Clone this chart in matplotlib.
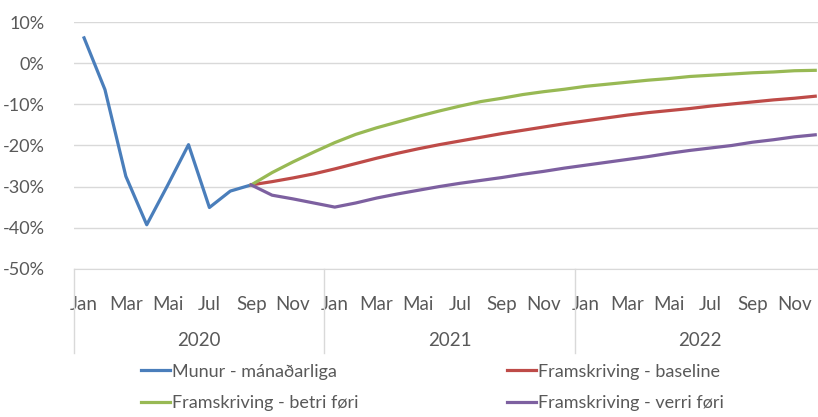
import matplotlib
matplotlib.use("Agg")
import matplotlib.pyplot as plt
from matplotlib.lines import Line2D
from matplotlib.ticker import FuncFormatter
from matplotlib import transforms

months = ["Jan", "Feb", "Mar", "Apr", "Mai", "Jun", "Jul", "Aug", "Sep", "Okt", "Nov", "Des"]
years = ["2020", "2021", "2022"]

# Munur - mánaðarliga (Jan-Sep 2020)
munur = [6.2, -6.4, -27.5, -39.3, -29.7, -19.8, -35.1, -31.1, -29.6]

# framskrivingar frá Sep 2020 til Des 2022
baseline = [-29.6, -28.8, -27.9, -26.9, -25.7, -24.4, -23.1, -21.9, -20.8, -19.8,
            -18.9, -18.0, -17.1, -16.3, -15.5, -14.7, -14.0, -13.3, -12.6, -12.0,
            -11.5, -11.0, -10.4, -9.9, -9.4, -8.9, -8.5, -8.0]
betri = [-29.6, -26.6, -24.0, -21.6, -19.3, -17.3, -15.7, -14.3, -12.9, -11.6,
         -10.4, -9.3, -8.5, -7.6, -6.9, -6.3, -5.6, -5.1, -4.6, -4.1,
         -3.7, -3.2, -2.9, -2.6, -2.3, -2.1, -1.8, -1.7]
verri = [-29.6, -32.1, -33.0, -34.0, -35.0, -34.0, -32.8, -31.8, -30.9, -30.0,
         -29.2, -28.5, -27.8, -27.0, -26.3, -25.5, -24.8, -24.1, -23.4, -22.7,
         -21.9, -21.2, -20.6, -20.0, -19.2, -18.6, -17.9, -17.4]

plt.rcParams["font.family"] = ["Lato", "DejaVu Sans"]
txt = "#595959"
grid = "#d9d9d9"

fig = plt.figure(figsize=(8.18, 4.17), dpi=100)
ax = fig.add_axes([0.09, 0.3556, 0.9194, 0.591])

n = len(months) * len(years)
x_munur = list(range(len(munur)))
x_fram = list(range(len(munur) - 1, n))

ax.plot(x_munur, munur, color="#4a7ebb", lw=2.3, label="Munur - mánaðarliga", solid_joinstyle="round")
ax.plot(x_fram, baseline, color="#be4b48", lw=2.3, label="Framskriving - baseline", solid_joinstyle="round")
ax.plot(x_fram, betri, color="#98b954", lw=2.3, label="Framskriving - betri føri", solid_joinstyle="round")
ax.plot(x_fram, verri, color="#7d60a0", lw=2.3, label="Framskriving - verri føri", solid_joinstyle="round")

ax.set_xlim(-0.5, n - 0.5)
ax.set_ylim(-50, 10)
ax.set_yticks(range(-50, 11, 10))
ax.yaxis.set_major_formatter(FuncFormatter(lambda v, p: f"{v:.0f}%"))
ax.grid(axis="y", color=grid, lw=1)
ax.set_axisbelow(True)
for s in ["top", "right", "left"]:
    ax.spines[s].set_visible(False)
ax.spines["bottom"].set_color(grid)
ax.tick_params(axis="y", length=0, pad=21, labelsize=13, labelcolor=txt)

# mánaðar-merki, annar hvør mánaður
ticks = list(range(0, n, 2))
ax.set_xticks(ticks)
ax.set_xticklabels([months[t % 12] for t in ticks])
ax.tick_params(axis="x", length=0, pad=20, labelsize=13.5, labelcolor=txt)

# ár og skiljilinjur undir ásinum
trans = transforms.blended_transform_factory(ax.transData, ax.transAxes)
for k, yr in enumerate(years):
    ax.text(k * 12 + 5.5, -0.29, yr, transform=trans, ha="center", va="center",
            fontsize=13.5, color=txt)
for k in range(len(years) + 1):
    ax.add_line(Line2D([k * 12 - 0.5] * 2, [0, -0.34], transform=trans, color=grid,
                       lw=1, clip_on=False))

handles, labels = ax.get_legend_handles_labels()
order = [0, 2, 1, 3]
fig.legend([handles[i] for i in order], [labels[i] for i in order], ncol=2,
           loc="center left", bbox_to_anchor=(140.5 / 818, 0.0707), frameon=False,
           fontsize=13, labelcolor=txt, handlelength=1.65, handletextpad=0.1,
           columnspacing=8.2, labelspacing=0.86, borderpad=0, borderaxespad=0)

fig.savefig("out.png", dpi=100)
